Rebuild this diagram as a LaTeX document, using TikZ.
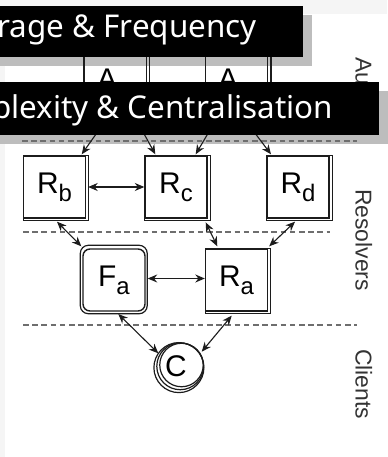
\documentclass[tikz,border=0pt]{standalone}
\usepackage{fontspec}
\setmainfont{Liberation Sans}
\newfontfamily\bannerfont{Noto Sans}
\usetikzlibrary{arrows.meta}

\definecolor{pagegray}{HTML}{F5F5F5}
\definecolor{shadowgray}{HTML}{BDBDBD}
\definecolor{ink}{HTML}{1C1C1C}
\definecolor{labelgray}{HTML}{333333}
\definecolor{dashgray}{HTML}{6E6E6E}

\pgfdeclarelayer{back}
\pgfdeclarelayer{shade}
\pgfdeclarelayer{front}
\pgfsetlayers{back,shade,main,front}

% server name with a lowered index
\newcommand{\srvname}[2]{#1\raisebox{-8bp}{\fontsize{24}{24}\selectfont #2}}

\tikzset{
  srvbox/.style={draw=ink, line width=1.4bp, fill=white, minimum width=62bp,
    minimum height=62bp, inner sep=0pt, font=\fontsize{30}{30}\selectfont},
  authbox/.style={srvbox, fill=none},
  fwdbox/.style={srvbox, rounded corners=7bp},
  sketchline/.style={draw=ink, line width=1.2bp},
  srvtext/.style={inner sep=0pt, font=\fontsize{30}{30}\selectfont},
  link/.style={draw=ink, line width=1.1bp,
    {Stealth[length=9.5bp,width=8bp]}-{Stealth[length=9.5bp,width=8bp]}},
  feed/.style={draw=ink, line width=1.1bp, -{Stealth[length=9.5bp,width=8bp]}},
  banner/.style={fill=black, text=white, font=\bannerfont\fontsize{31.5}{31.5}\selectfont,
    inner ysep=0pt, inner xsep=46bp, anchor=north east},
  tier/.style={rotate=-90, anchor=base west, inner sep=0pt, text=labelgray,
    font=\fontsize{23}{23}\selectfont},
  divider/.style={draw=dashgray, line width=1.2bp, dash pattern=on 5.5bp off 3.7bp},
}

\begin{document}
\begin{tikzpicture}[x=1bp, y=-1bp]
\useasboundingbox (0,0) rectangle (387,457);

% paper
\begin{pgfonlayer}{back}
  \fill[pagegray] (0,0) rectangle (387,457);
  \fill[white] (5,14) rectangle (387,457);
\end{pgfonlayer}

% authoritative servers
\node[authbox] (A1) at (115.25,83) {};
\node[authbox] (A2) at (236.75,83) {};
\node[srvtext, anchor=base] (A1t) at (107,90) {A};
\node[srvtext, anchor=base] (A2t) at (228,90) {A};

% resolvers
\node[srvbox] (Rb) at (54.5,187) {\srvname{R}{b}};
\node[srvbox] (Rc) at (176,187) {\srvname{R}{c}};
\node[srvbox] (Rd) at (298,187) {\srvname{R}{d}};
\node[fwdbox] (Fa) at (114,280) {\srvname{F}{a}};
\node[srvbox] (Ra) at (236.5,280) {\srvname{R}{a}};

% second pencil strokes
\foreach \n in {A1,A2,Rb,Rc,Rd,Ra}
  \draw[sketchline] ([shift={(0.5,0.5)}]\n.north west) rectangle ([shift={(2.5,2)}]\n.south east);
\draw[sketchline, rounded corners=8bp] ([shift={(-2,-3)}]Fa.north west) rectangle ([shift={(1.5,2)}]Fa.south east);

% client
\node[srvtext, minimum size=40bp, circle] (C) at (176,366) {C};
\draw[sketchline] ([shift={(5.5,-1)}]C.center) circle[radius=21.75bp];
\draw[sketchline] ([shift={(4.2,0.3)}]C.center) circle[radius=23.4bp];
\draw[sketchline] ([shift={(2.9,1.6)}]C.center) circle[radius=25bp];

% tier separators
\coordinate (d1a) at (22,141);  \coordinate (d1b) at (357,141);
\coordinate (d2a) at (23,232);  \coordinate (d2b) at (330,232);
\coordinate (d3a) at (23,325);  \coordinate (d3b) at (357,325);
\draw[divider] (d1a) -- (d1b);
\draw[divider] (d2a) -- (d2b);
\draw[divider] (d3a) -- (d3b);

% authoritative to resolvers
\draw[feed] ([shift={(-5.5,0)}]A1.south) -- ([shift={(-4.5,-1)}]Rb.north east);
\draw[feed] ([shift={(18.25,0)}]A1.south) -- ([shift={(11,-1)}]Rc.north west);
\draw[feed] ([shift={(-17.75,0)}]A2.south) -- ([shift={(-12,-1)}]Rc.north east);
\draw[feed] ([shift={(4.25,0)}]A2.south) -- ([shift={(4.7,-1)}]Rd.north west);

% resolver mesh
\draw[link] ([shift={(2,0)}]Rb.east) -- (Rc.west);
\draw[link] ([shift={(2,-1.5)}]Fa.east) -- ([shift={(0,-1.5)}]Ra.west);
\draw[link] ([shift={(2.5,3)}]Rb.south) -- ([shift={(-1,-2)}]Fa.north west);
\draw[link] ([shift={(-2,3.7)}]Rc.south east) -- ([shift={(12.5,-2)}]Ra.north west);
\draw[link] ([shift={(-3,3)}]Rd.south) -- ([shift={(1,-2)}]Ra.north east);

% resolvers to client
\draw[link] ([shift={(4.3,2.3)}]Fa.south) -- ([shift={(-17.7,-12.7)}]C.center);
\draw[link] ([shift={(-4.8,4)}]Ra.south) -- ([shift={(25.7,-14.3)}]C.center);

% tier labels
\node[tier] (tauth) at (355.5,57) {Auth};
\node[tier] (tres) at (355.5,189) {Resolvers};
\node[tier] (tcli) at (355.5,349) {Clients};

% banners
\begin{pgfonlayer}{front}
  \node[banner, text height=31bp, text depth=20bp] (cov) at (303,6) {Coverage \& Frequency};
  \node[banner, text height=36bp, text depth=17bp] (cpx) at (379,82) {Complexity \& Centralisation};
\end{pgfonlayer}
\begin{pgfonlayer}{shade}
  \fill[shadowgray] ([shift={(9,9)}]cov.north west) rectangle ([shift={(9,9)}]cov.south east);
  \fill[shadowgray] ([shift={(9,9)}]cpx.north west) rectangle ([shift={(9,9)}]cpx.south east);
\end{pgfonlayer}
\end{tikzpicture}
\end{document}
